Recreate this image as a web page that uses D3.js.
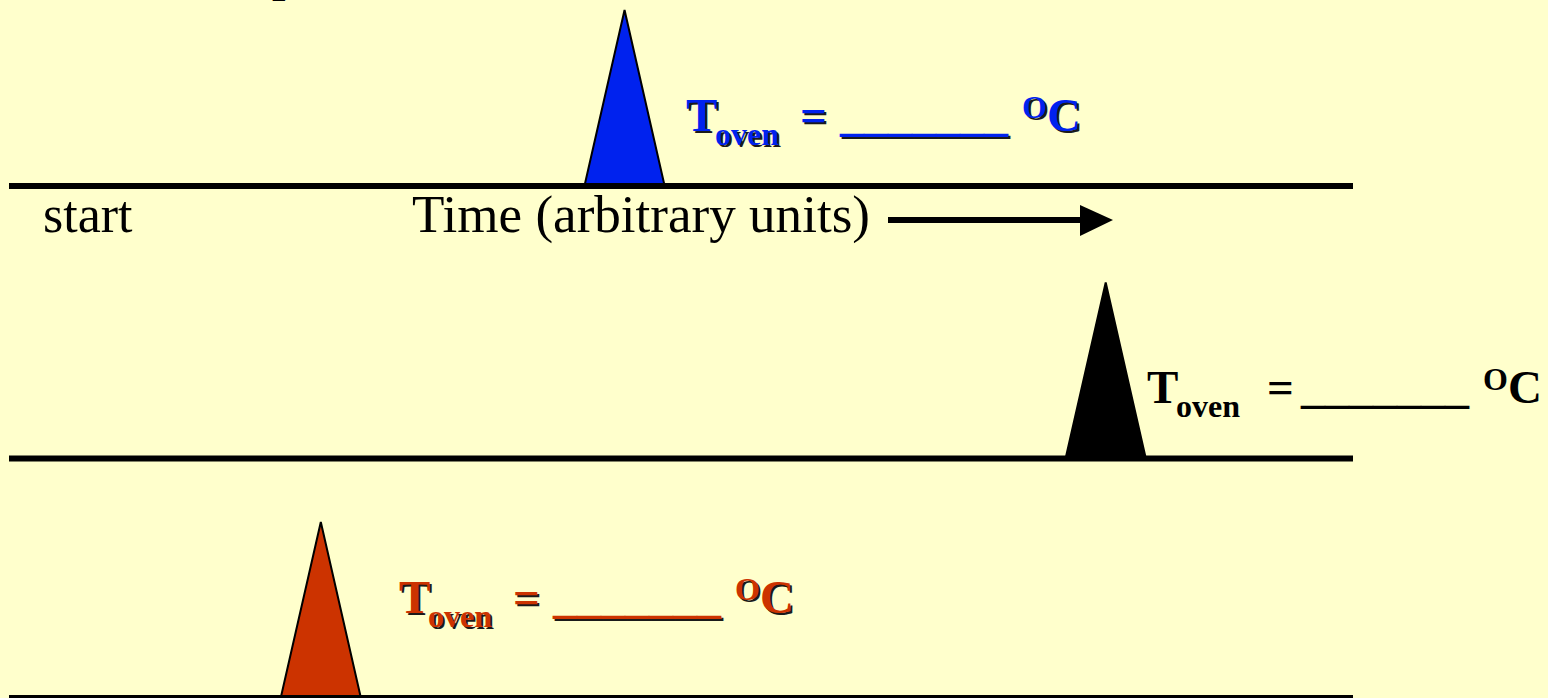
<!DOCTYPE html>
<html>
<head>
<meta charset="utf-8">
<script src="https://cdn.jsdelivr.net/npm/d3@7/dist/d3.min.js"></script>
<style>
  html, body { margin: 0; padding: 0; background: #FFFFCC; overflow: hidden; }
  svg { display: block; }
</style>
</head>
<body>
<svg id="chart" width="1548" height="698"></svg>
<script>
// ---- data ----
const panels = ["blue", "black", "red"];
const peakTimes = [45.8, 81.6, 23.2];      // retention time (arbitrary units, 0-100)
const peakWidths = [5.9, 5.9, 5.9];        // base width (arbitrary units)
const peakHeights = [100, 100, 100];       // relative signal
const peakColors = ["#0022EE", "#000000", "#CC3300"];
const labelMain = "T";
const labelSub = "oven";
const labelEq = "=";
const labelBlank = "_______";
const labelDeg = "O";
const labelUnit = "C";
const axisStart = "start";
const axisTitle = "Time (arbitrary units)";

// ---- layout ----
const W = 1548, H = 698;
const baselines = [186, 458.5, 698];
const labelX = [686, 1147, 399];
const labelY = [131, 403, 613];
const eqOffset = [114, 120, 114];
const shadowOn = [true, false, true];

const svg = d3.select("#chart");
svg.append("rect").attr("width", W).attr("height", H).attr("fill", "#FFFFCC");

const x = d3.scaleLinear().domain([0, 100]).range([9, 1353]);
const h = d3.scaleLinear().domain([0, 100]).range([0, 176]);

// cut-off title fragment at the very top (only the descender is visible)
svg.append("text").attr("x", 272).attr("y", -9)
  .attr("font-family", "Liberation Serif, Times New Roman, serif")
  .attr("font-weight", "bold").attr("font-size", 48).attr("fill", "#000")
  .text("p");

panels.forEach((p, i) => {
  const g = svg.append("g");
  const by = baselines[i];
  // baseline
  g.append("line")
    .attr("x1", x(0)).attr("x2", x(100))
    .attr("y1", by).attr("y2", by)
    .attr("stroke", "#000").attr("stroke-width", 6);
  // peak
  const t = peakTimes[i], w = peakWidths[i], hh = peakHeights[i];
  const pts = [[x(t - w / 2), by - 2], [x(t), by - h(hh)], [x(t + w / 2), by - 2]];
  g.append("path")
    .attr("d", d3.line()(pts) + "Z")
    .attr("fill", peakColors[i])
    .attr("stroke", "#000").attr("stroke-width", 2).attr("stroke-linejoin", "miter");

  // label
  const lx = labelX[i], ly = labelY[i];
  const items = [
    { t: labelMain, dx: 0, dy: 0, fs: 47 },
    { t: labelSub, dx: 29, dy: 14, fs: 32 },
    { t: labelEq, dx: eqOffset[i], dy: 0, fs: 47 },
    { t: labelBlank, dx: 154, dy: 0, fs: 47, len: 168 },
    { t: labelDeg, dx: 336, dy: -13, fs: 32 },
    { t: labelUnit, dx: 361, dy: 0, fs: 47 }
  ];
  const layers = shadowOn[i] ? [{ off: 2, col: "#1a1a1a" }, { off: 0, col: peakColors[i] }] : [{ off: 0, col: peakColors[i] }];
  layers.forEach(L => {
    items.forEach(it => {
      const tx = g.append("text")
        .attr("x", lx + it.dx + L.off).attr("y", ly + it.dy + L.off)
        .attr("font-family", "Liberation Serif, Times New Roman, serif")
        .attr("font-weight", "bold")
        .attr("font-size", it.fs)
        .attr("fill", L.col)
        .text(it.t);
      if (it.len) tx.attr("textLength", it.len).attr("lengthAdjust", "spacingAndGlyphs");
    });
  });
});

// axis annotation under first baseline
svg.append("text").attr("x", 43).attr("y", 232)
  .attr("font-family", "Liberation Serif, Times New Roman, serif")
  .attr("font-size", 52).attr("fill", "#000").text(axisStart);
svg.append("text").attr("x", 412).attr("y", 232)
  .attr("font-family", "Liberation Serif, Times New Roman, serif")
  .attr("font-size", 52).attr("fill", "#000")
  .attr("textLength", 458).attr("lengthAdjust", "spacingAndGlyphs")
  .text(axisTitle);

// arrow
svg.append("line").attr("x1", 888).attr("x2", 1084).attr("y1", 220).attr("y2", 220)
  .attr("stroke", "#000").attr("stroke-width", 6);
svg.append("path").attr("d", "M1080,205 L1113,220 L1080,236 Z").attr("fill", "#000");
</script>
</body>
</html>
